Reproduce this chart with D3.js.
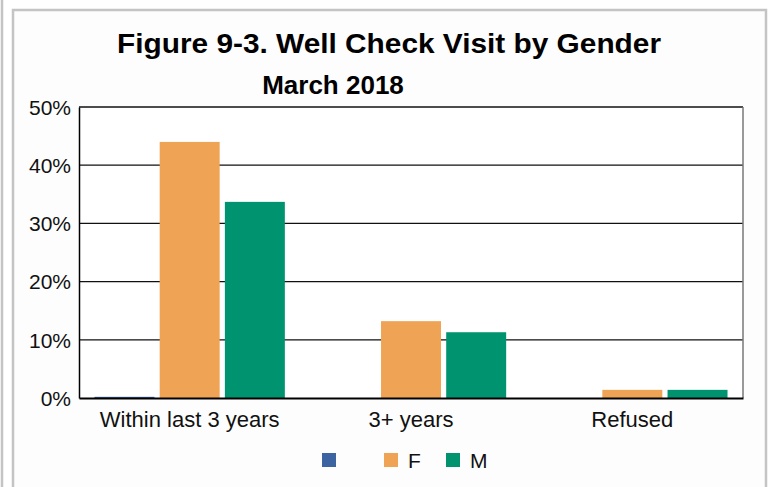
<html>
<head>
<meta charset="utf-8">
<script src="https://d3js.org/d3.v7.min.js"></script>
<style>
body { margin: 0; background: #fff; font-family: Arial, 'Liberation Sans', sans-serif; }
svg { display: block; }
.tick text { font-family: Arial, 'Liberation Sans', sans-serif; fill: #111; }
</style>
</head>
<body>
<div id="chart"></div>
<script>
var width = 769;
var height = 487;

// data
var categories = ["Within last 3 years", "3+ years", "Refused"];
var seriesNames = ["", "F", "M"];
var blankValues = [0.2, 0, 0];
var fValues = [44.0, 13.2, 1.4];
var mValues = [33.7, 11.3, 1.4];
var yTicks = [0, 10, 20, 30, 40, 50];
var colors = ["#3b64a0", "#efa354", "#00936f"];

var seriesValues = [blankValues, fValues, mValues];

var plot = { left: 79, right: 743, top: 107, bottom: 398 };

var svg = d3.select("#chart").append("svg")
	.attr("width", width).attr("height", height);

// outer frame
svg.append("rect").attr("x", 0).attr("y", 0).attr("width", width).attr("height", height).attr("fill", "#fff");
svg.append("line").attr("x1", 2).attr("x2", 2).attr("y1", 0).attr("y2", height)
	.attr("stroke", "#c4c4c4").attr("stroke-width", 2.5);
svg.append("path").attr("d", "M13," + height + "V10H766V" + height)
	.attr("fill", "#fdfdfd").attr("stroke", "#c4c4c4").attr("stroke-width", 2.5);

svg.append("text").attr("x", 389).attr("y", 53)
	.attr("text-anchor", "middle").attr("font-size", 28).attr("font-weight", "bold")
	.attr("textLength", 544).attr("lengthAdjust", "spacingAndGlyphs")
	.attr("fill", "#000").text("Figure 9-3. Well Check Visit by Gender");
svg.append("text").attr("x", 333).attr("y", 94)
	.attr("text-anchor", "middle").attr("font-size", 26).attr("font-weight", "bold")
	.attr("fill", "#000").text("March 2018");

var yScale = d3.scaleLinear().domain([0, 50]).range([plot.bottom, plot.top]);

var x0 = d3.scaleBand().domain(categories).range([plot.left, plot.right]).paddingInner(0.14).paddingOuter(0.07);
var x1 = d3.scaleBand().domain(seriesNames.map(function (d, i) { return i; }))
	.range([0, x0.bandwidth()]).paddingInner(0.08);

// plot background + gridlines
svg.append("rect").attr("x", plot.left).attr("y", plot.top)
	.attr("width", plot.right - plot.left).attr("height", plot.bottom - plot.top)
	.attr("fill", "#fff");

yTicks.forEach(function (t) {
	if (t === 0) return;
	svg.append("line")
		.attr("x1", plot.left).attr("x2", plot.right)
		.attr("y1", yScale(t)).attr("y2", yScale(t))
		.attr("stroke", "#111").attr("stroke-width", 1.3);
});
svg.append("line").attr("x1", plot.right).attr("x2", plot.right)
	.attr("y1", plot.top).attr("y2", plot.bottom)
	.attr("stroke", "#777").attr("stroke-width", 1.5);

// bars
categories.forEach(function (cat, ci) {
	seriesValues.forEach(function (vals, si) {
		var v = vals[ci];
		if (v <= 0) return;
		svg.append("rect")
			.attr("x", x0(cat) + x1(si))
			.attr("y", yScale(v))
			.attr("width", x1.bandwidth())
			.attr("height", yScale(0) - yScale(v))
			.attr("fill", colors[si]);
	});
});

// axes
var yAxis = d3.axisLeft(yScale).tickValues(yTicks)
	.tickFormat(function (d) { return d + "%"; }).tickSize(0).tickPadding(8);
var gy = svg.append("g").attr("transform", "translate(" + plot.left + ",0)").call(yAxis);
gy.select(".domain").attr("stroke", "#000").attr("stroke-width", 1.5);
gy.selectAll("text").attr("font-size", 21).attr("dy", "0.35em");

var xAxis = d3.axisBottom(x0).tickSize(0).tickPadding(13);
var gx = svg.append("g").attr("transform", "translate(0," + plot.bottom + ")").call(xAxis);
gx.select(".domain").attr("stroke", "#000").attr("stroke-width", 2);
gx.selectAll("text").attr("font-size", 22);

// legend
var legendX = [322, 384, 446];
seriesNames.forEach(function (name, i) {
	svg.append("rect").attr("x", legendX[i]).attr("y", 453)
		.attr("width", 14).attr("height", 14).attr("fill", colors[i]);
	svg.append("text").attr("x", legendX[i] + 24).attr("y", 468)
		.attr("font-size", 21).attr("fill", "#111").text(name);
});
</script>
</body>
</html>
